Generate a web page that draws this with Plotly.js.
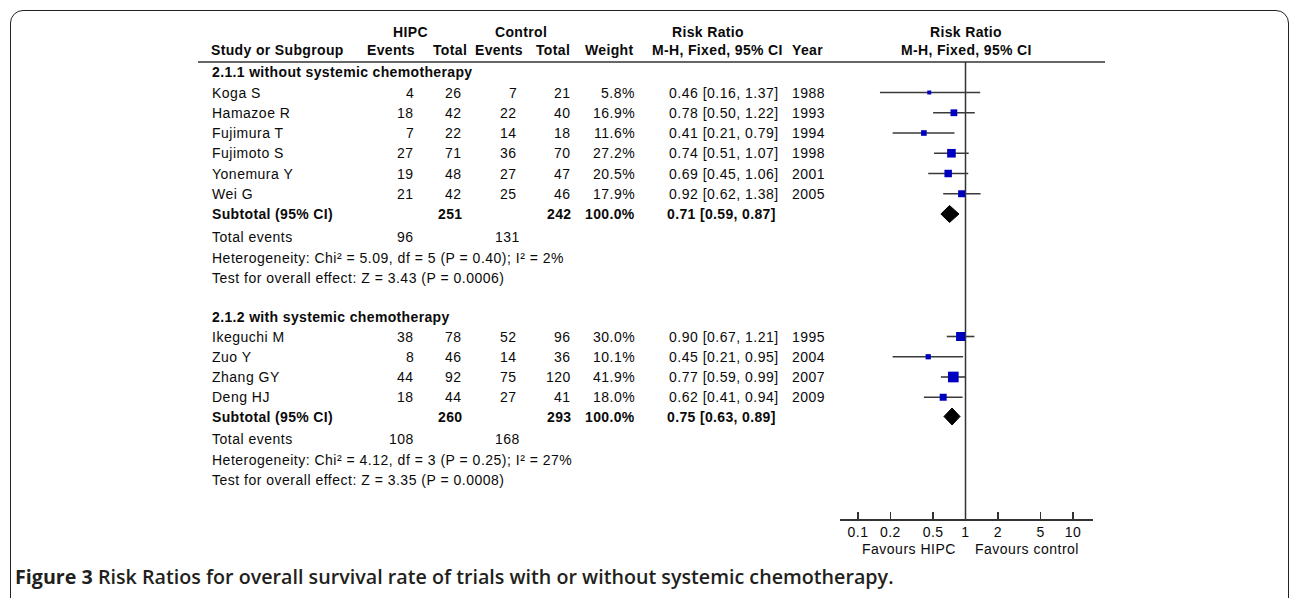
<!DOCTYPE html>
<html><head><meta charset="utf-8">
<script src="https://cdn.plot.ly/plotly-3.0.1.min.js"></script>
<style>
html,body{margin:0;padding:0;background:#fff;width:1290px;height:598px;overflow:hidden;}
#chart{position:absolute;left:0;top:0;width:1290px;height:598px;}
#frame{position:absolute;left:10px;top:10px;width:1279px;height:602px;box-sizing:border-box;border:1.5px solid #222;border-radius:13px;pointer-events:none;}
svg text[style*="Liberation"]{letter-spacing:0.5px;}
svg text[style*="Liberation"] tspan[style*="bold"]{letter-spacing:0.35px;}
</style></head><body>
<div id="chart"></div><div id="frame"></div>
<script>
// ---------- DATA ----------
const group1Title = "2.1.1 without systemic chemotherapy";
const studies1 = ["Koga S","Hamazoe R","Fujimura T","Fujimoto S","Yonemura Y","Wei G"];
const hipcEvents1 = [4,18,7,27,19,21];
const hipcTotal1 = [26,42,22,71,48,42];
const ctrlEvents1 = [7,22,14,36,27,25];
const ctrlTotal1 = [21,40,18,70,47,46];
const weight1 = [5.8,16.9,11.6,27.2,20.5,17.9];
const rr1 = [0.46,0.78,0.41,0.74,0.69,0.92];
const lo1 = [0.16,0.50,0.21,0.51,0.45,0.62];
const hi1 = [1.37,1.22,0.79,1.07,1.06,1.38];
const year1 = [1988,1993,1994,1998,2001,2005];
const sub1 = {hipcTotal:251, ctrlTotal:242, weight:100.0, rr:0.71, lo:0.59, hi:0.87,
  hipcEvents:96, ctrlEvents:131,
  het:"Heterogeneity: Chi\u00b2 = 5.09, df = 5 (P = 0.40); I\u00b2 = 2%",
  test:"Test for overall effect: Z = 3.43 (P = 0.0006)"};

const group2Title = "2.1.2 with systemic chemotherapy";
const studies2 = ["Ikeguchi M","Zuo Y","Zhang GY","Deng HJ"];
const hipcEvents2 = [38,8,44,18];
const hipcTotal2 = [78,46,92,44];
const ctrlEvents2 = [52,14,75,27];
const ctrlTotal2 = [96,36,120,41];
const weight2 = [30.0,10.1,41.9,18.0];
const rr2 = [0.90,0.45,0.77,0.62];
const lo2 = [0.67,0.21,0.59,0.41];
const hi2 = [1.21,0.95,0.99,0.94];
const year2 = [1995,2004,2007,2009];
const sub2 = {hipcTotal:260, ctrlTotal:293, weight:100.0, rr:0.75, lo:0.63, hi:0.89,
  hipcEvents:108, ctrlEvents:168,
  het:"Heterogeneity: Chi\u00b2 = 4.12, df = 3 (P = 0.25); I\u00b2 = 27%",
  test:"Test for overall effect: Z = 3.35 (P = 0.0008)"};

const tickVals = [0.1,0.2,0.5,1,2,5,10];
const tickLabels = ["0.1","0.2","0.5","1","2","5","10"];
const favLeft = "Favours HIPC";
const favRight = "Favours control";
const caption = "<b>Figure 3</b> Risk Ratios for overall survival rate of trials with or without systemic chemotherapy.";

// ---------- LAYOUT CONSTANTS (pixels) ----------
const W = 1290, H = 598;
const ROW = {hdr1:32, hdr2:50, rule:62, g1Title:72, g1First:92.5, step:20.25, g1Sub:214,
  g1Tot:237, g1Het:257.5, g1Test:277.5, g2Title:317, g2First:336.5, g2Sub:416.5,
  g2Tot:439, g2Het:460, g2Test:480, axis:519, fav:549, caption:576};
const COL = {name:210, hEv:416, hTot:464, cEv:519, cTot:573, wt:637, rr:667, yr:790};
const HCOL = {study:209, hEv:417, hTot:469, cEv:525, cTot:572, wt:636, rr:650, yr:790,
  hipc:410, ctrl:521, rrHdr:708, forest:966};
const FONT = "'Liberation Sans', Arial, sans-serif";
const FS = 14;
const TXT = "#0a0a0a";

const annotations = [];
function txt(x, y, text, anchor, bold){
  annotations.push({xref:'paper', yref:'y', x:x/W, y:y, text: bold ? '<b>'+text+'</b>' : String(text),
    xanchor:anchor, yanchor:'middle', showarrow:false,
    font:{family:FONT, size:FS, color:TXT}});
}
const fmt2 = v => v.toFixed(2);
const ci = (r,l,h) => fmt2(r)+" ["+fmt2(l)+", "+fmt2(h)+"]";

// headers
txt(HCOL.hipc, ROW.hdr1, "HIPC", 'center', true);
txt(HCOL.ctrl, ROW.hdr1, "Control", 'center', true);
txt(HCOL.rrHdr, ROW.hdr1, "Risk Ratio", 'center', true);
txt(HCOL.forest, ROW.hdr1, "Risk Ratio", 'center', true);
txt(HCOL.study, ROW.hdr2, "Study or Subgroup", 'left', true);
txt(HCOL.hEv, ROW.hdr2, "Events", 'right', true);
txt(HCOL.hTot, ROW.hdr2, "Total", 'right', true);
txt(HCOL.cEv, ROW.hdr2, "Events", 'right', true);
txt(HCOL.cTot, ROW.hdr2, "Total", 'right', true);
txt(HCOL.wt, ROW.hdr2, "Weight", 'right', true);
txt(HCOL.rr, ROW.hdr2, "M-H, Fixed, 95% CI", 'left', true);
txt(HCOL.yr, ROW.hdr2, "Year", 'left', true);
txt(HCOL.forest, ROW.hdr2, "M-H, Fixed, 95% CI", 'center', true);

const traces = [];
const ciX = [], ciY = [], sqX = [], sqY = [], sqS = [];

function group(title, names, he, ht, ce, ct, wt, rr, lo, hi, yr, sub, r){
  txt(COL.name, r.title, title, 'left', true);
  names.forEach((n,i)=>{
    const y = r.first + i*ROW.step;
    txt(COL.name, y, n, 'left');
    txt(COL.hEv, y, he[i], 'right');
    txt(COL.hTot, y, ht[i], 'right');
    txt(COL.cEv, y, ce[i], 'right');
    txt(COL.cTot, y, ct[i], 'right');
    txt(COL.wt, y, wt[i].toFixed(1)+"%", 'right');
    txt(COL.rr, y, ci(rr[i],lo[i],hi[i]), 'left');
    txt(COL.yr, y, yr[i], 'left');
    ciX.push(lo[i], hi[i], null); ciY.push(y, y, null);
    sqX.push(rr[i]); sqY.push(y); sqS.push(1.65*Math.sqrt(wt[i]));
  });
  txt(COL.name, r.sub, "Subtotal (95% CI)", 'left', true);
  txt(COL.hTot, r.sub, sub.hipcTotal, 'right', true);
  txt(COL.cTot, r.sub, sub.ctrlTotal, 'right', true);
  txt(COL.wt, r.sub, sub.weight.toFixed(1)+"%", 'right', true);
  txt(COL.rr - 2, r.sub, ci(sub.rr, sub.lo, sub.hi), 'left', true);
  txt(COL.name, r.tot, "Total events", 'left');
  txt(COL.hEv, r.tot, sub.hipcEvents, 'right');
  txt(COL.cEv + 3, r.tot, sub.ctrlEvents, 'right');
  txt(COL.name, r.het, sub.het, 'left');
  txt(COL.name, r.test, sub.test, 'left');
  const dh = 8.5;
  traces.push({type:'scatter', mode:'lines', x:[sub.lo, sub.rr, sub.hi, sub.rr, sub.lo],
    y:[r.sub, r.sub-dh, r.sub, r.sub+dh, r.sub], fill:'toself', fillcolor:'#000',
    line:{color:'#000', width:1}, xaxis:'x', yaxis:'y', hoverinfo:'skip'});
}
group(group1Title, studies1, hipcEvents1, hipcTotal1, ctrlEvents1, ctrlTotal1, weight1, rr1, lo1, hi1, year1, sub1,
  {title:ROW.g1Title, first:ROW.g1First, sub:ROW.g1Sub, tot:ROW.g1Tot, het:ROW.g1Het, test:ROW.g1Test});
group(group2Title, studies2, hipcEvents2, hipcTotal2, ctrlEvents2, ctrlTotal2, weight2, rr2, lo2, hi2, year2, sub2,
  {title:ROW.g2Title, first:ROW.g2First, sub:ROW.g2Sub, tot:ROW.g2Tot, het:ROW.g2Het, test:ROW.g2Test});

// null line
traces.unshift({type:'scatter', mode:'lines', x:[1,1], y:[ROW.rule, ROW.axis],
  line:{color:'#333', width:1.5}, hoverinfo:'skip'});
traces.push({type:'scatter', mode:'lines', x:ciX, y:ciY, connectgaps:false,
  line:{color:'#3a3a3a', width:1.6}, hoverinfo:'skip'});
traces.push({type:'scatter', mode:'markers', x:sqX, y:sqY,
  marker:{symbol:'square', color:'#0000c0', opacity:1, size:sqS, line:{width:0}}, hoverinfo:'skip'});

txt(958, ROW.fav, favLeft, 'right');
txt(973, ROW.fav, favRight, 'left');
annotations.push({xref:'paper', yref:'y', x:13/W, y:ROW.caption, text:caption, xanchor:'left',
  yanchor:'middle', showarrow:false, font:{family:"'Open Sans', sans-serif", size:19.7, color:'#231f20', weight:600}});

const pxPerDec = 107.5;
const layout = {
  width:W, height:H, margin:{l:0,r:0,t:0,b:0}, showlegend:false,
  paper_bgcolor:'#fff', plot_bgcolor:'rgba(0,0,0,0)', hovermode:false,
  xaxis:{type:'log', domain:[840/W, 1093/W], range:[-1-18/pxPerDec, 1+20/pxPerDec],
    anchor:'free', position:1-ROW.axis/H, showline:true, linecolor:'#333', linewidth:1.5,
    ticks:'inside', ticklen:7, tickwidth:1.3, tickcolor:'#333', tickvals:tickVals, ticktext:tickLabels,
    showgrid:false, zeroline:false, tickfont:{family:FONT, size:FS, color:TXT}, fixedrange:true},
  yaxis:{range:[H,0], domain:[0,1], visible:false, fixedrange:true},
  shapes:[{type:'line', xref:'paper', yref:'y', x0:198/W, x1:1105/W, y0:ROW.rule, y1:ROW.rule,
    line:{color:'#333', width:1.5}}],
  annotations:annotations
};
Plotly.newPlot('chart', traces, layout, {staticPlot:true, displayModeBar:false});
</script></body></html>
